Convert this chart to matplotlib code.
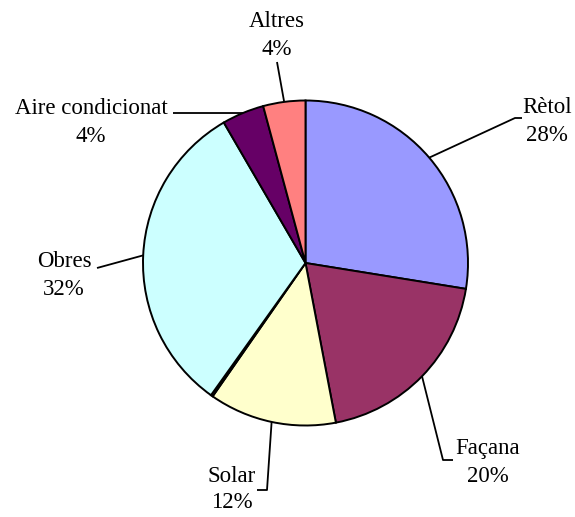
import matplotlib.pyplot as plt
import numpy as np

# slice data, clockwise from 12 o'clock
labels = ["Rètol", "Façana", "Solar", "", "Obres", "Aire condicionat", "Altres"]
shares = [27.6, 19.5, 12.7, 0.2, 31.8, 4.2, 4.2]
pct_text = ["28%", "20%", "12%", "", "32%", "4%", "4%"]
colors = ["#9999FF", "#993366", "#FFFFCC", "#FFFFFF", "#CCFFFF", "#660066", "#FF8080"]

W, H = 575, 517
cx, cy, R = 305.5, 263, 162.5


def px(x, y):
    # pixel position -> data units (pie radius = 1)
    return (x - cx) / R, (cy - y) / R


# label layout in pixels: (x centre, baseline of name), leader path after the wedge point
label_pos = {
    "Rètol": ((547, 113), [(515, 118), (522, 118)]),
    "Façana": ((488, 454), [(443, 460), (453, 460)]),
    "Solar": ((232, 482), [(267, 490), (257, 490)]),
    "Obres": ((64, 267), [(97, 268)]),
    "Aire condicionat": ((91, 114), [(173, 113)]),
    "Altres": ((277, 27), [(277, 62)]),
}
gap = 28

plt.rcParams['font.family'] = ['Liberation Serif', 'DejaVu Serif']

fig = plt.figure(figsize=(W / 100, H / 100), dpi=100)
ax = fig.add_axes([0, 0, 1, 1])
wedges, _ = ax.pie(shares, colors=colors, startangle=90, counterclock=False,
                   wedgeprops=dict(edgecolor='black', linewidth=1.4))
ax.set_aspect('auto')
ax.set_xlim(-cx / R, (W - cx) / R)
ax.set_ylim(-(H - cy) / R, cy / R)
ax.axis('off')

for w, name, pct in zip(wedges, labels, pct_text):
    if not name:
        continue
    ang = np.deg2rad((w.theta1 + w.theta2) / 2)
    start = (np.cos(ang), np.sin(ang))
    (tx, ty), path = label_pos[name]
    pts = [start] + [px(*p) for p in path]
    xs, ys = zip(*pts)
    ax.plot(xs, ys, color='black', lw=1.3, solid_capstyle='butt')
    x0, y0 = px(tx, ty)
    x1, y1 = px(tx, ty + (gap if name != "Solar" else gap - 2))
    ax.text(x0, y0, name, ha='center', va='baseline', fontsize=16.5)
    ax.text(x1, y1, pct, ha='center', va='baseline', fontsize=16.5)

fig.savefig("out.png", dpi=100)
